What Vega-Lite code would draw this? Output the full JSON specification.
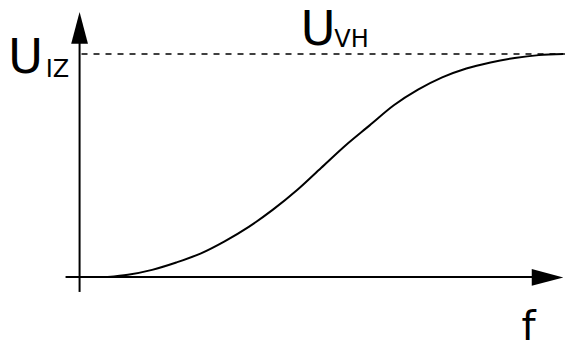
{
  "$schema": "https://vega.github.io/schema/vega-lite/v6.json",
  "width": 568,
  "height": 349,
  "padding": 0,
  "autosize": {"type": "fit", "contains": "padding"},
  "config": {"view": {"stroke": null}},
  "datasets": {
    "curve": [
      {"f": 0.58, "U": 0.0},
      {"f": 1.0, "U": 0.01},
      {"f": 1.5, "U": 0.032},
      {"f": 2.0, "U": 0.065},
      {"f": 2.5, "U": 0.105},
      {"f": 3.0, "U": 0.16},
      {"f": 3.5, "U": 0.225},
      {"f": 4.0, "U": 0.302},
      {"f": 4.5, "U": 0.39},
      {"f": 5.0, "U": 0.49},
      {"f": 5.5, "U": 0.59},
      {"f": 6.0, "U": 0.68},
      {"f": 6.5, "U": 0.77},
      {"f": 7.0, "U": 0.84},
      {"f": 7.5, "U": 0.895},
      {"f": 8.0, "U": 0.935},
      {"f": 8.5, "U": 0.962},
      {"f": 9.0, "U": 0.982},
      {"f": 9.5, "U": 0.995},
      {"f": 10.0, "U": 1.0}
    ],
    "vaxis": [{"f": 0, "U": -0.067, "U2": 1.06}],
    "haxis": [{"f": -0.29, "f2": 9.5, "U": 0}],
    "dash": [{"f": 0.04, "f2": 10.04, "U": 1.0}],
    "big": [
      {"label": "U", "f": -1.48, "U": 0.915},
      {"label": "U", "f": 4.57, "U": 1.04}
    ],
    "sub": [
      {"label": "IZ", "f": -0.70, "U": 0.897},
      {"label": "VH", "f": 5.27, "U": 1.031}
    ],
    "axlabel": [{"label": "f", "f": 9.14, "U": -0.2825}],
    "arrowUp": [{"f": 0, "U": 1.117}],
    "arrowRight": [{"f": 9.68, "U": -0.002}]
  },
  "encoding": {
    "x": {"field": "f", "type": "quantitative", "scale": {"domain": [-1.646, 10.041], "nice": false, "zero": false}, "axis": null},
    "y": {"field": "U", "type": "quantitative", "scale": {"domain": [-0.3229, 1.2422], "nice": false, "zero": false}, "axis": null}
  },
  "layer": [
    {
      "data": {"name": "dash"},
      "mark": {"type": "rule", "color": "black", "strokeWidth": 1.5, "strokeDash": [6, 6]},
      "encoding": {"x2": {"field": "f2"}}
    },
    {
      "data": {"name": "vaxis"},
      "mark": {"type": "rule", "color": "black", "strokeWidth": 2},
      "encoding": {"y2": {"field": "U2"}}
    },
    {
      "data": {"name": "haxis"},
      "mark": {"type": "rule", "color": "black", "strokeWidth": 2},
      "encoding": {"x2": {"field": "f2"}}
    },
    {
      "data": {"name": "curve"},
      "mark": {"type": "line", "color": "black", "strokeWidth": 2, "interpolate": "monotone"}
    },
    {
      "data": {"name": "arrowUp"},
      "mark": {"type": "point", "filled": true, "color": "black", "opacity": 1, "size": 1000, "shape": "M-0.53,1L0,-1L0.53,1Z"}
    },
    {
      "data": {"name": "arrowRight"},
      "mark": {"type": "point", "filled": true, "color": "black", "opacity": 1, "size": 1000, "shape": "M-1,-0.53L1,0L-1,0.53Z"}
    },
    {
      "data": {"name": "big"},
      "mark": {"type": "text", "font": "DejaVu Sans", "fontSize": 48, "align": "left", "baseline": "alphabetic", "color": "black"},
      "encoding": {"text": {"field": "label"}}
    },
    {
      "data": {"name": "sub"},
      "mark": {"type": "text", "font": "DejaVu Sans", "fontSize": 24, "align": "left", "baseline": "alphabetic", "color": "black"},
      "encoding": {"text": {"field": "label"}}
    },
    {
      "data": {"name": "axlabel"},
      "mark": {"type": "text", "font": "DejaVu Sans", "fontSize": 40, "align": "left", "baseline": "alphabetic", "color": "black"},
      "encoding": {"text": {"field": "label"}}
    }
  ]
}
